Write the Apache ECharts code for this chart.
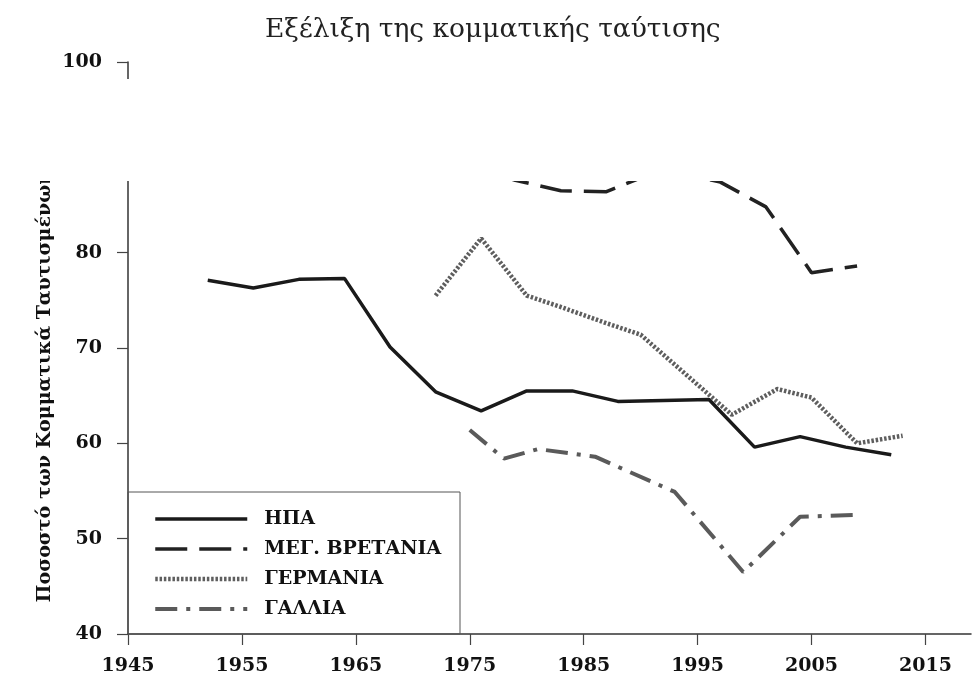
<!DOCTYPE html>
<html><head><meta charset="utf-8">
<script src="https://cdn.jsdelivr.net/npm/echarts@6/dist/echarts.min.js"></script>
<style>html,body{margin:0;padding:0;background:#fff}#c{width:974px;height:676px}</style>
</head><body><div id="c"></div>
<script>
const chartTitle = 'Εξέλιξη της κομματικής ταύτισης';
const yName = 'Ποσοστό των Κομματικά Ταυτισμένων';
const xTicks = [1945, 1955, 1965, 1975, 1985, 1995, 2005, 2015];
const yTicks = [40, 50, 60, 70, 80, 100];
const seriesNames = ['ΗΠΑ', 'ΜΕΓ. ΒΡΕΤΑΝΙΑ', 'ΓΕΡΜΑΝΙΑ', 'ΓΑΛΛΙΑ'];
const usaYears = [1952, 1956, 1960, 1964, 1968, 1972, 1976, 1980, 1984, 1988, 1992, 1996, 2000, 2004, 2008, 2012];
const usaValues = [77.1, 76.3, 77.2, 77.3, 70.1, 65.4, 63.4, 65.5, 65.5, 64.4, 64.5, 64.6, 59.6, 60.7, 59.6, 58.8];
const ukYears = [1970, 1974, 1979, 1983, 1987, 1992, 1997, 2001, 2005, 2009];
const ukValues = [90.5, 89.5, 87.6, 86.5, 86.4, 88.8, 87.4, 84.8, 77.9, 78.6];
const deYears = [1972, 1976, 1980, 1983, 1987, 1990, 1994, 1998, 2002, 2005, 2009, 2013];
const deValues = [75.5, 81.5, 75.5, 74.3, 72.6, 71.4, 67.2, 63.0, 65.7, 64.8, 60.0, 60.8];
const frYears = [1975, 1978, 1981, 1986, 1993, 1999, 2004, 2009];
const frValues = [61.4, 58.4, 59.4, 58.6, 54.9, 46.5, 52.3, 52.5];

const pairs = (xs, vs) => xs.map((x, i) => [x, vs[i]]);
const serif = '"DejaVu Serif", "Liberation Serif", serif';
const styles = [
  {color: '#1a1a1a', width: 3.5},
  {color: '#222', width: 3.5, type: [32, 12]},
  {color: '#5e5e5e', width: 4.5, type: [2.5, 1.8], cap: 'butt'},
  {color: '#5a5a5a', width: 4, type: [22, 9, 4, 9]}
];
const chart = echarts.init(document.getElementById('c'), null, {renderer: 'canvas'});
chart.setOption({
  animation: false,
  backgroundColor: '#fff',
  title: {
    text: chartTitle, left: 260, top: 12,
    textStyle: {fontFamily: serif, fontWeight: 'normal', fontSize: 26.5, color: '#222'}
  },
  grid: {left: 128, right: 3, top: 62, bottom: 42},
  xAxis: {
    type: 'value', min: 1945, max: 2019,
    axisLine: {lineStyle: {color: '#333', width: 1.5}},
    axisTick: {customValues: xTicks, length: 11, lineStyle: {color: '#444', width: 1.2}},
    axisLabel: {customValues: xTicks, formatter: v => String(v), margin: 23, fontFamily: serif, fontWeight: 'bold', fontSize: 19, color: '#111'},
    splitLine: {show: false}
  },
  yAxis: {
    type: 'value', min: 40, max: 100,
    axisLine: {show: true, lineStyle: {color: '#333', width: 1.5}},
    axisTick: {show: true, customValues: yTicks, length: 11, lineStyle: {color: '#444', width: 1.2}},
    axisLabel: {customValues: yTicks, formatter: v => String(v), margin: 26, fontFamily: serif, fontWeight: 'bold', fontSize: 19, color: '#111'},
    splitLine: {show: false}
  },
  legend: {
    data: seriesNames.map((n, i) => ({name: n, itemStyle: {opacity: 0}, lineStyle: styles[i]})),
    orient: 'vertical', left: 148, top: 504,
    itemWidth: 92, itemHeight: 14, itemGap: 10,
    itemStyle: {opacity: 0},
    textStyle: {fontFamily: serif, fontWeight: 'bold', fontSize: 19, color: '#111', padding: [0, 0, 0, 12], lineHeight: 20}
  },
  series: seriesNames.map((n, i) => ({
    name: n, type: 'line', symbol: 'none',
    data: [pairs(usaYears, usaValues), pairs(ukYears, ukValues), pairs(deYears, deValues), pairs(frYears, frValues)][i],
    itemStyle: {color: styles[i].color},
    lineStyle: styles[i]
  })),
  graphic: [
    {type: 'text', z: 90, x: 45, y: 387, rotation: Math.PI / 2,
     style: {text: yName, font: 'bold 19px "DejaVu Serif"', textAlign: 'center', textVerticalAlign: 'middle', fill: '#111'}},
    {type: 'rect', z: 100, shape: {x: 0, y: 79, width: 974, height: 102}, style: {fill: '#fff'}},
    {type: 'rect', z: 50, shape: {x: 128, y: 492, width: 332, height: 142}, style: {fill: 'none', stroke: '#555', lineWidth: 1}}
  ]
});
</script>
</body></html>
